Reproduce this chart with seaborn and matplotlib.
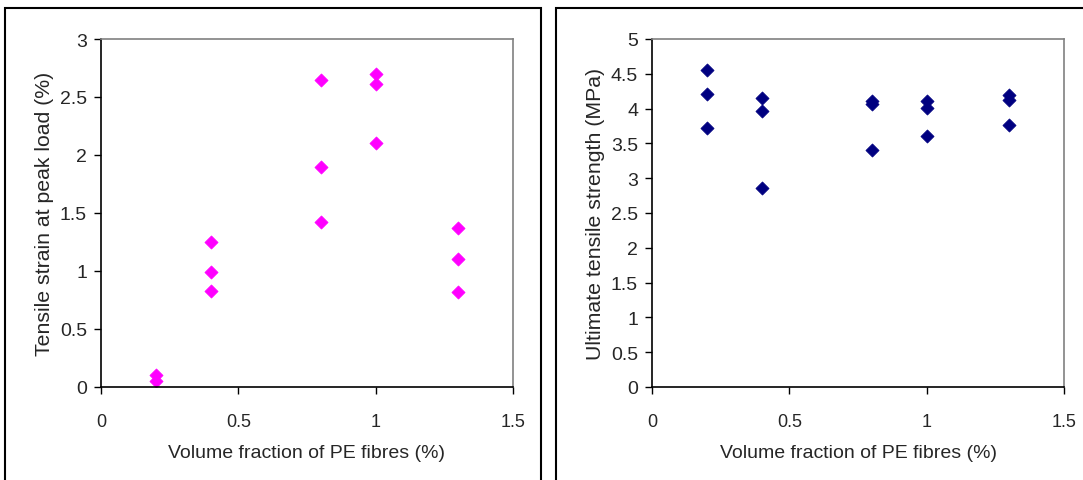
import matplotlib
matplotlib.use("Agg")
import matplotlib.pyplot as plt
import seaborn as sns
import pandas as pd
from matplotlib.patches import Rectangle

# data
vf_strain = [0.2, 0.2, 0.4, 0.4, 0.4, 0.8, 0.8, 0.8, 1.0, 1.0, 1.0, 1.3, 1.3, 1.3]
strain = [0.10, 0.05, 1.25, 0.99, 0.83, 2.65, 1.90, 1.42, 2.70, 2.61, 2.10, 1.37, 1.10, 0.82]

vf_uts = [0.2, 0.2, 0.2, 0.4, 0.4, 0.4, 0.8, 0.8, 0.8, 1.0, 1.0, 1.0, 1.3, 1.3, 1.3]
uts = [4.56, 4.21, 3.72, 4.15, 3.97, 2.86, 4.11, 4.07, 3.41, 4.11, 4.01, 3.60, 4.20, 4.13, 3.76]

x_ticks = [0, 0.5, 1, 1.5]
x_labels = ["0", "0.5", "1", "1.5"]
strain_ticks = [0, 0.5, 1, 1.5, 2, 2.5, 3]
uts_ticks = [0, 0.5, 1, 1.5, 2, 2.5, 3, 3.5, 4, 4.5, 5]

xlabel = "Volume fraction of PE fibres (%)"
ylabel_left = "Tensile strain at peak load (%)"
ylabel_right = "Ultimate tensile strength (MPa)"

sns.set_style("white")
plt.rcParams["font.family"] = ["Liberation Sans", "DejaVu Sans"]

W, H = 1083, 481
fig = plt.figure(figsize=(W / 100, H / 100), dpi=100)

# panel frames
fig.add_artist(Rectangle((5 / W, -0.1), (541 - 5) / W, 1.1 - 9 / H,
                         transform=fig.transFigure, fill=False,
                         edgecolor="black", lw=1.5, clip_on=False))
fig.add_artist(Rectangle((556 / W, -0.1), 0.5, 1.1 - 9 / H,
                         transform=fig.transFigure, fill=False,
                         edgecolor="black", lw=1.5, clip_on=False))

ax1 = fig.add_axes([101 / W, (H - 388) / H, 412 / W, 348 / H])
ax2 = fig.add_axes([652 / W, (H - 388) / H, 412 / W, 348 / H])

df1 = pd.DataFrame({"vf": vf_strain, "val": strain})
df2 = pd.DataFrame({"vf": vf_uts, "val": uts})

sns.scatterplot(data=df1, x="vf", y="val", ax=ax1, marker="D", s=45,
                color="#FF00FF", edgecolor="#FF00FF", linewidth=0.5)
sns.scatterplot(data=df2, x="vf", y="val", ax=ax2, marker="D", s=45,
                color="#000080", edgecolor="#000080", linewidth=0.5)

for ax, yt, ylab in [(ax1, strain_ticks, ylabel_left), (ax2, uts_ticks, ylabel_right)]:
    ax.set_xlim(0, 1.5)
    ax.set_ylim(yt[0], yt[-1])
    ax.set_xticks(x_ticks)
    ax.set_xticklabels(x_labels)
    ax.set_yticks(yt)
    ax.set_yticklabels([("%g" % t) for t in yt])
    ax.tick_params(axis="both", direction="out", length=5, width=1,
                   color="black", left=True, bottom=True)
    ax.tick_params(axis="x", labelsize=13, pad=14)
    ax.tick_params(axis="y", labelsize=14, pad=5)
    ax.set_xlabel(xlabel, fontsize=14, labelpad=10)
    ax.set_ylabel(ylab, fontsize=15.3, labelpad=4)
    for side in ["left", "bottom"]:
        ax.spines[side].set_color("black")
        ax.spines[side].set_linewidth(1.2)
    for side in ["top", "right"]:
        ax.spines[side].set_color("#808080")
        ax.spines[side].set_linewidth(1.2)

fig.savefig("out.png", dpi=100)
